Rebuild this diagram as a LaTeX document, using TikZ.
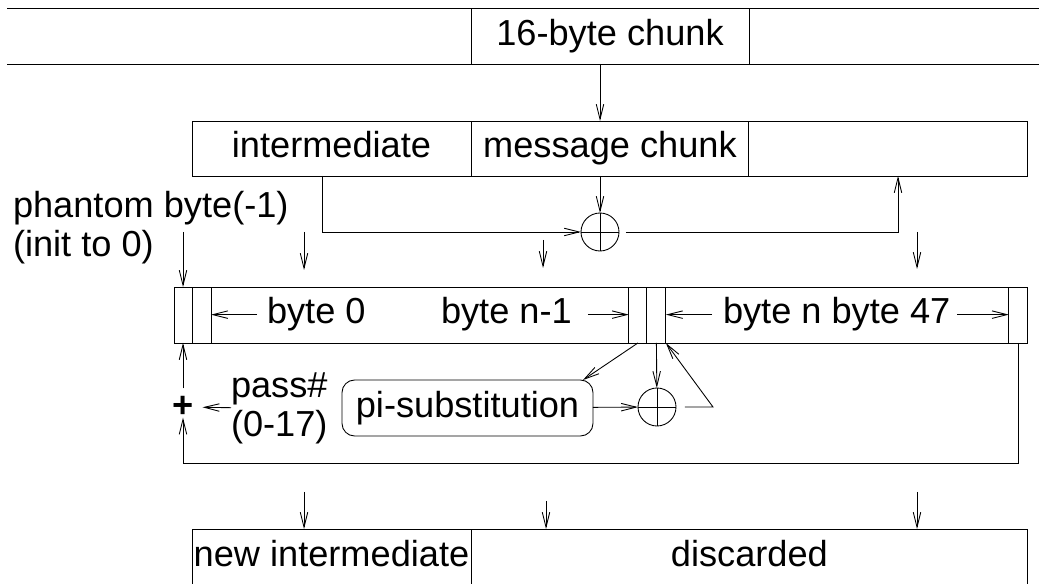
\documentclass[tikz,border=0pt]{standalone}
\usepackage{fontspec}
\setmainfont{Liberation Sans}
\usetikzlibrary{positioning,arrows.meta}

\begin{document}
\begin{tikzpicture}[x=0.02cm, y=-0.02cm, line width=0.5pt, >={Straight Barb[length=0.3cm,width=0.15cm]}]
		\tikzstyle{every node}=[inner sep=0pt, outer sep=0pt, font=\fontsize{20.6}{22.7}\selectfont]
		\tikzstyle{cell}=[draw, rectangle, minimum height=1.12cm, text height=15pt, text depth=4.3pt]
		\tikzstyle{xor}=[draw, circle, minimum size=0.76cm, path picture={\draw (path picture bounding box.north) -- (path picture bounding box.south) (path picture bounding box.west) -- (path picture bounding box.east);}]
		\useasboundingbox (0,0) rectangle (1039,584);
		\clip (0,0) rectangle (1039,584);

		% input strip
		\draw (7,8) -- (1039,8);
		\draw (7,64) -- (1039,64);
		\node[cell, minimum width=5.56cm] (chunk) at (610,36) {16-byte chunk};

		% 48-byte state, first row
		\node[cell, minimum width=5.58cm, minimum height=1.1cm] (inter) at (331.5,148.5) {intermediate};
		\node[cell, minimum width=5.56cm, minimum height=1.1cm, right=0pt of inter] (msg) {message chunk};
		\node[cell, minimum width=5.58cm, minimum height=1.1cm, right=0pt of msg] (spare) {};
		\node[xor] (xor1) at (600,232) {};
		\coordinate (itap) at (322,0);
		\coordinate (otap) at (898,0);

		\draw [->] (chunk.south -| xor1) -- (msg.north -| xor1);
		\draw [->] (msg.south -| xor1) -- (xor1);
		\draw [->] (inter.south -| itap) |- (xor1);
		\draw [->, shorten <=0.14cm] (xor1) -| (spare.south -| otap);

		% register
		\node[cell, minimum width=0.36cm] (c0) at (183,315) {};
		\node[cell, minimum width=0.38cm, right=0pt of c0] (c1) {};
		\node[cell, minimum width=8.36cm, right=0pt of c1] (low) {};
		\node[cell, minimum width=0.36cm, right=0pt of low] (c2) {};
		\node[cell, minimum width=0.38cm, right=0pt of c2] (c3) {};
		\node[cell, minimum width=6.86cm, right=0pt of c3] (high) {};
		\node[cell, minimum width=0.38cm, right=0pt of high] (c4) {};

		\node[anchor=base west] (b0) at (267,324) {byte 0};
		\node[anchor=base west] (bn1) at (441,324) {byte n-1};
		\node[anchor=base west] (bn) at (723,324) {byte n byte 47};
		\draw [->, shorten <=0.2cm] (b0.west) -- (c1.east |- b0.west);
		\draw [->, shorten <=0.32cm] (bn1.east) -- (c2.west |- bn1.east);
		\draw [->, shorten <=0.22cm] (bn.west) -- (c3.east |- bn.west);
		\draw [->, shorten <=0.14cm] (bn.east) -- (c4.west |- bn.east);

		\node[anchor=base west, align=left] (phantom) at (13,257) {phantom byte(-1)\\(init to 0)};
		\coordinate (ph) at (183,232);
		\draw [->] (ph) -- (c0.north);

		\coordinate (m1) at (304,232);
		\coordinate (m1e) at (304,270);
		\coordinate (m2) at (543,240);
		\coordinate (m2e) at (543,268);
		\coordinate (m3) at (917,232);
		\coordinate (m3e) at (917,269);
		\draw [->] (m1) -- (m1e);
		\draw [->] (m2) -- (m2e);
		\draw [->] (m3) -- (m3e);

		% one pass
		\node[draw, rounded corners=0.25cm, minimum width=5.02cm, minimum height=1.12cm] (pisub) at (467.5,408) {pi-substitution};
		\node[xor] (xor2) at (657,407) {};
		\node (plus) at (183,407) {\bfseries +};
		\node[anchor=base west, align=left] (pass) at (231,437) {pass\#\\(0-17)};
		\coordinate (kink) at (713,407);
		\coordinate (fb) at (0,463);

		\draw [->] (c2.south) -- ([xshift=-0.2cm]pisub.north east);
		\draw [->] (c3.south) -- (xor2);
		\draw [->] (pisub) -- (xor2);
		\draw [->, shorten <=0.18cm] (xor2) -- (kink) -- (c3.south east);
		\draw [->] (c4.south) |- (fb -| plus) -- (plus);
		\draw [->, shorten <=0.16cm] (plus) -- (c0.south);
		\draw [->, shorten >=0.18cm] (pass) -- (plus);

		% output
		\node[cell, minimum width=5.58cm] (newint) at (331.5,557) {new intermediate};
		\node[cell, minimum width=11.14cm, right=0pt of newint] (disc) {discarded};
		\coordinate (n1) at (304,492);
		\coordinate (n2) at (546,501);
		\coordinate (n3) at (917,492);
		\draw [->] (n1) -- (n1 |- newint.north);
		\draw [->] (n2) -- (n2 |- disc.north);
		\draw [->] (n3) -- (n3 |- disc.north);
	\end{tikzpicture}
\end{document}
